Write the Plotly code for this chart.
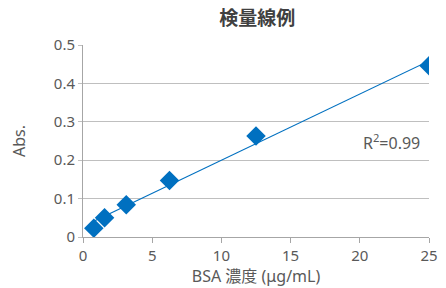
import numpy as np
import plotly.graph_objects as go

conc = [0.78, 1.56, 3.125, 6.25, 12.5, 25]
absorb = [0.023, 0.05, 0.084, 0.147, 0.263, 0.446]
x_ticks = [0, 5, 10, 15, 20, 25]
y_ticks = [0, 0.1, 0.2, 0.3, 0.4, 0.5]

slope, intercept = np.polyfit(conc, absorb, 1)
fit_x = [min(conc), max(conc)]
fit_y = [slope * v + intercept for v in fit_x]

BLUE = "#0070C0"
GRAY = "#595959"
FONT = "Noto Sans, Noto Sans CJK JP, sans-serif"

fig = go.Figure()
fig.add_trace(go.Scatter(x=fit_x, y=fit_y, mode="lines",
                         line=dict(color=BLUE, width=1.2), hoverinfo="skip"))
fig.add_trace(go.Scatter(x=conc, y=absorb, mode="markers",
                         marker=dict(symbol="diamond", size=15, color=BLUE)))

fig.update_layout(
    width=446, height=288,
    margin=dict(l=83, r=17, t=45, b=51, autoexpand=False),
    paper_bgcolor="white", plot_bgcolor="white",
    showlegend=False,
    font=dict(family=FONT, color=GRAY, size=15),
    title=dict(text="<b>検量線例</b>", x=0.577, xanchor="center", y=0.935, yanchor="middle",
               font=dict(family="Noto Sans CJK JP", size=19, color="#404040")),
    xaxis=dict(range=[0, 25], tickvals=x_ticks, showgrid=False, zeroline=False, automargin=False,
               showline=True, linecolor="#a6a6a6", linewidth=1,
               ticks="outside", ticklen=5, tickcolor="#a6a6a6",
               title=dict(text="BSA 濃度 (μg/mL)", standoff=4, font=dict(size=16)),
               tickfont=dict(size=15, color=GRAY)),
    yaxis=dict(range=[0, 0.5], tickvals=y_ticks, ticktext=["0", "0.1", "0.2", "0.3", "0.4", "0.5"],
               showgrid=True, gridcolor="#bfbfbf", gridwidth=1, zeroline=False, automargin=False,
               showline=True, linecolor="#a6a6a6", linewidth=1,
               ticks="outside", ticklen=4, tickcolor="#bfbfbf",
               title=dict(text="Abs.", standoff=24, font=dict(size=16)),
               tickfont=dict(size=15, color=GRAY)),
)
fig.add_annotation(x=0.892, y=0.495, xref="paper", yref="paper", text="R<sup>2</sup>=0.99",
                   showarrow=False, font=dict(size=16, color=GRAY), xanchor="center", yanchor="middle")

fig.write_html("out.html", config={"displayModeBar": False},
               post_script="document.body.style.margin='0';")
